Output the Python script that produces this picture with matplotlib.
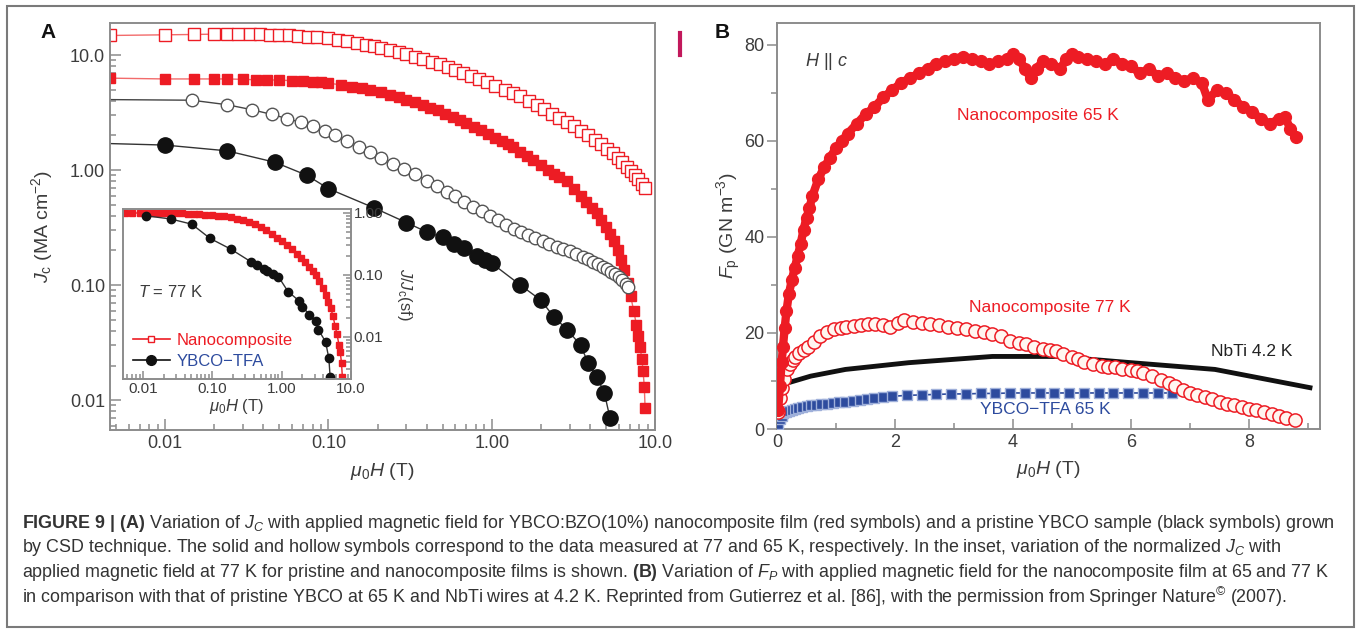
import matplotlib
matplotlib.use("Agg")
import matplotlib.pyplot as plt
from matplotlib.ticker import FixedLocator, FixedFormatter, LogLocator, NullFormatter, MultipleLocator
from matplotlib.lines import Line2D
from matplotlib.patches import Rectangle

plt.rcParams["font.family"] = ["Liberation Sans", "DejaVu Sans"]
plt.rcParams["mathtext.fontset"] = "custom"
plt.rcParams["mathtext.rm"] = "Liberation Sans"
plt.rcParams["mathtext.it"] = "Liberation Sans:italic"
plt.rcParams["mathtext.bf"] = "Liberation Sans:bold"

# ---- panel A: Jc vs field (log-log) ----
x_a_nano65 = [0.0046, 0.010, 0.015, 0.020, 0.024, 0.028, 0.033, 0.038, 0.044, 0.050,
              0.057, 0.065, 0.075, 0.085, 0.10, 0.115, 0.13, 0.15, 0.17, 0.19,
              0.21, 0.24, 0.27, 0.30, 0.34, 0.38, 0.43, 0.48, 0.54, 0.60,
              0.67, 0.75, 0.84, 0.94, 1.05, 1.20, 1.35, 1.50, 1.70, 1.90,
              2.10, 2.35, 2.60, 2.90, 3.20, 3.50, 3.90, 4.30, 4.70, 5.10,
              5.50, 5.90, 6.30, 6.70, 7.10, 7.50, 7.90, 8.30, 8.70]
y_a_nano65 = [14.8, 15.0, 15.1, 15.2, 15.2, 15.2, 15.1, 15.1, 15.0, 15.0,
              14.9, 14.7, 14.5, 14.3, 14.0, 13.6, 13.2, 12.7, 12.3, 11.9,
              11.6, 11.1, 10.6, 10.2, 9.7, 9.2, 8.7, 8.3, 7.8, 7.4,
              7.0, 6.6, 6.2, 5.8, 5.4, 5.0, 4.7, 4.4, 4.0, 3.7,
              3.4, 3.1, 2.85, 2.6, 2.4, 2.2, 2.0, 1.82, 1.67, 1.53,
              1.40, 1.28, 1.17, 1.07, 0.98, 0.90, 0.83, 0.76, 0.70]

x_a_nano77 = [0.0046, 0.010, 0.015, 0.020, 0.024, 0.030, 0.036, 0.042, 0.050, 0.060,
              0.070, 0.080, 0.090, 0.10, 0.12, 0.14, 0.16, 0.18, 0.21, 0.24,
              0.27, 0.30, 0.34, 0.38, 0.42, 0.47, 0.52, 0.58, 0.64, 0.70,
              0.78, 0.86, 0.95, 1.05, 1.15, 1.25, 1.35, 1.50, 1.65, 1.80,
              2.00, 2.20, 2.40, 2.60, 2.90, 3.20, 3.50, 3.80, 4.10, 4.40,
              4.70, 5.00, 5.30, 5.60, 5.90, 6.20, 6.50, 6.80, 7.10, 7.40,
              7.70, 7.90, 8.10, 8.30, 8.45, 8.60, 8.70]
y_a_nano77 = [6.3, 6.2, 6.2, 6.2, 6.2, 6.15, 6.1, 6.1, 6.05, 6.0,
              5.95, 5.85, 5.8, 5.7, 5.5, 5.3, 5.15, 5.0, 4.75, 4.5,
              4.3, 4.1, 3.9, 3.7, 3.5, 3.3, 3.1, 2.9, 2.7, 2.55,
              2.38, 2.22, 2.07, 1.92, 1.80, 1.68, 1.58, 1.45, 1.33, 1.23,
              1.10, 1.00, 0.93, 0.87, 0.80, 0.68, 0.60, 0.53, 0.47, 0.42,
              0.37, 0.32, 0.28, 0.24, 0.20, 0.165, 0.135, 0.105, 0.080, 0.060,
              0.045, 0.036, 0.029, 0.023, 0.018, 0.013, 0.0085]

x_a_ybco65 = [0.0046, 0.0146, 0.024, 0.034, 0.045, 0.056, 0.068, 0.080, 0.095, 0.11,
              0.13, 0.155, 0.18, 0.21, 0.25, 0.29, 0.34, 0.40, 0.46, 0.53,
              0.60, 0.68, 0.77, 0.87, 0.98, 1.10, 1.23, 1.37, 1.52, 1.68,
              1.85, 2.05, 2.25, 2.50, 2.75, 3.00, 3.30, 3.60, 3.90, 4.20,
              4.50, 4.80, 5.10, 5.40, 5.70, 6.00, 6.30, 6.60, 6.80]
y_a_ybco65 = [4.1, 4.05, 3.7, 3.35, 3.05, 2.8, 2.6, 2.4, 2.2, 2.0,
              1.8, 1.6, 1.45, 1.28, 1.14, 1.03, 0.92, 0.81, 0.72, 0.65,
              0.59, 0.53, 0.48, 0.44, 0.40, 0.365, 0.335, 0.31, 0.29, 0.27,
              0.255, 0.24, 0.228, 0.216, 0.205, 0.196, 0.186, 0.177, 0.168, 0.16,
              0.152, 0.145, 0.138, 0.131, 0.124, 0.117, 0.110, 0.103, 0.096]

x_a_ybco77 = [0.0046, 0.010, 0.024, 0.047, 0.074, 0.10, 0.19, 0.30, 0.40, 0.50,
              0.59, 0.68, 0.81, 0.91, 1.0, 1.5, 2.0, 2.4, 2.9, 3.5,
              3.9, 4.4, 4.9, 5.3]
y_a_ybco77 = [1.70, 1.65, 1.47, 1.17, 0.90, 0.69, 0.47, 0.35, 0.29, 0.26,
              0.23, 0.21, 0.18, 0.165, 0.155, 0.10, 0.074, 0.053, 0.041, 0.030,
              0.021, 0.016, 0.0115, 0.0070]

# inset: normalised Jc at 77 K
x_in_nano = [0.0055, 0.007, 0.009, 0.011, 0.013, 0.016, 0.019, 0.022, 0.026, 0.030,
             0.037, 0.045, 0.055, 0.065, 0.08, 0.10, 0.12, 0.15, 0.19, 0.23,
             0.28, 0.34, 0.41, 0.50, 0.60, 0.72, 0.86, 1.0, 1.2, 1.4,
             1.65, 1.9, 2.2, 2.5, 2.8, 3.1, 3.5, 3.9, 4.3, 4.7,
             5.1, 5.5, 5.9, 6.3, 6.7, 7.0, 7.3, 7.5]
y_in_nano = [1.0, 1.0, 1.0, 1.0, 1.0, 1.0, 1.0, 1.0, 1.0, 0.99,
             0.99, 0.98, 0.97, 0.96, 0.94, 0.92, 0.90, 0.88, 0.85, 0.81,
             0.77, 0.72, 0.67, 0.60, 0.53, 0.46, 0.40, 0.35, 0.30, 0.26,
             0.22, 0.19, 0.16, 0.135, 0.115, 0.10, 0.08, 0.062, 0.048, 0.037,
             0.029, 0.022, 0.015, 0.011, 0.0075, 0.0057, 0.0038, 0.0023]
x_in_ybco = [0.0113, 0.0254, 0.051, 0.093, 0.187, 0.36, 0.44, 0.55, 0.62, 0.76,
             0.90, 1.24, 1.8, 2.0, 2.5, 3.1, 3.4, 4.3, 4.8, 5.0]
y_in_ybco = [0.90, 0.80, 0.66, 0.39, 0.26, 0.164, 0.145, 0.125, 0.116, 0.103,
             0.094, 0.054, 0.038, 0.031, 0.023, 0.018, 0.013, 0.0084, 0.0045, 0.0023]

# ---- panel B: pinning force vs field ----
x_b_nano65 = [0.02, 0.05, 0.08, 0.10, 0.13, 0.16, 0.20, 0.25, 0.30, 0.35,
              0.40, 0.45, 0.50, 0.55, 0.60, 0.70, 0.80, 0.90, 1.00, 1.10,
              1.20, 1.35, 1.50, 1.65, 1.80, 1.95, 2.10, 2.25, 2.40, 2.55,
              2.70, 2.85, 3.00, 3.15, 3.30, 3.45, 3.60, 3.75, 3.90, 4.00,
              4.10, 4.20, 4.30, 4.40, 4.50, 4.65, 4.80, 4.90, 5.00, 5.10,
              5.25, 5.40, 5.55, 5.70, 5.85, 6.00, 6.15, 6.30, 6.45, 6.60,
              6.75, 6.90, 7.05, 7.20, 7.30, 7.45, 7.60, 7.75, 7.90, 8.05,
              8.20, 8.35, 8.50, 8.60, 8.70, 8.80]
y_b_nano65 = [4.0, 9.0, 14.0, 17.0, 21.0, 24.5, 28.0, 31.0, 33.5, 36.0,
              38.5, 41.5, 44.0, 46.0, 48.5, 52.0, 54.5, 56.5, 58.5, 60.0,
              61.5, 63.5, 65.5, 67.0, 69.0, 70.5, 72.0, 73.0, 74.0, 75.0,
              76.0, 76.5, 77.0, 77.5, 77.0, 76.5, 76.0, 76.5, 77.0, 78.0,
              77.0, 75.0, 73.0, 75.0, 76.5, 76.0, 75.0, 77.0, 78.0, 77.5,
              77.0, 76.5, 76.0, 77.0, 76.0, 75.5, 74.0, 75.0, 73.5, 74.0,
              73.0, 72.5, 73.0, 72.0, 68.5, 70.5, 70.0, 68.5, 67.0, 66.0,
              64.5, 63.5, 64.5, 65.0, 62.5, 60.7]

x_b_nano77 = [0.02, 0.05, 0.08, 0.12, 0.17, 0.22, 0.27, 0.31, 0.38, 0.45,
              0.53, 0.62, 0.73, 0.85, 0.97, 1.08, 1.17, 1.30, 1.42, 1.55,
              1.66, 1.80, 1.92, 2.05, 2.16, 2.30, 2.45, 2.60, 2.75, 2.90,
              3.05, 3.20, 3.35, 3.50, 3.65, 3.80, 3.95, 4.10, 4.22, 4.35,
              4.50, 4.62, 4.72, 4.85, 5.00, 5.10, 5.20, 5.35, 5.50, 5.60,
              5.72, 5.85, 6.00, 6.10, 6.20, 6.35, 6.50, 6.64, 6.75, 6.88,
              7.00, 7.12, 7.25, 7.37, 7.50, 7.62, 7.75, 7.88, 8.00, 8.12,
              8.25, 8.38, 8.50, 8.62, 8.78]
y_b_nano77 = [3.5, 6.5, 8.5, 10.5, 12.4, 13.5, 14.4, 15.0, 15.8, 16.5,
              17.0, 18.2, 19.4, 20.2, 20.8, 21.1, 21.2, 21.5, 21.7, 21.8,
              21.9, 21.6, 21.2, 22.0, 22.7, 22.3, 22.0, 21.8, 21.6, 21.3,
              21.0, 20.8, 20.4, 20.1, 19.8, 19.4, 18.3, 18.0, 17.6, 17.0,
              16.6, 16.4, 16.2, 15.6, 15.0, 14.5, 14.0, 13.6, 13.2, 13.0,
              12.8, 12.4, 12.2, 12.0, 11.7, 11.0, 10.3, 9.6, 9.0, 8.2,
              7.5, 7.0, 6.6, 6.2, 5.7, 5.3, 4.9, 4.5, 4.2, 3.9,
              3.5, 3.1, 2.7, 2.3, 1.9]

x_b_nbti = [0.24, 0.57, 1.16, 2.23, 3.65, 4.72, 5.80, 7.42, 9.03]
y_b_nbti = [9.8, 11.0, 12.4, 13.8, 15.1, 15.1, 14.0, 12.4, 8.6]

x_b_ybco65 = [0.02, 0.05, 0.08, 0.11, 0.15, 0.20, 0.25, 0.30, 0.36, 0.42,
              0.50, 0.58, 0.66, 0.75, 0.85, 0.95, 1.05, 1.16, 1.28, 1.40,
              1.52, 1.65, 1.80, 1.95, 2.20, 2.45, 2.70, 2.95, 3.20, 3.45,
              3.70, 3.95, 4.20, 4.45, 4.70, 4.95, 5.20, 5.45, 5.70, 5.95,
              6.20, 6.45, 6.70]
y_b_ybco65 = [1.0, 2.0, 2.8, 3.3, 3.6, 3.8, 4.0, 4.2, 4.3, 4.5,
              4.7, 4.9, 5.0, 5.2, 5.3, 5.5, 5.6, 5.7, 5.9, 6.0,
              6.2, 6.4, 6.6, 6.8, 7.0, 7.1, 7.2, 7.3, 7.3, 7.4,
              7.4, 7.5, 7.5, 7.5, 7.5, 7.5, 7.5, 7.5, 7.5, 7.5,
              7.5, 7.5, 7.5]

log_ticks = [0.01, 0.1, 1, 10]
log_labels = ["0.01", "0.10", "1.00", "10.0"]

RED = "#ED1C24"
LINE_RED = "#F26B6B"
BLUE = "#2D4B9E"
SPINE = "#8C8C8C"
TXT = "#3C3C3C"

W, H = 1357, 629
fig = plt.figure(figsize=(W / 100, H / 100), dpi=100)


def box(l, t, r, b):
    return [l / W, 1 - b / H, (r - l) / W, (b - t) / H]


def style_log(ax, size, major_len, minor_len):
    ax.set_xscale("log")
    ax.set_yscale("log")
    for ax_ in (ax.xaxis, ax.yaxis):
        ax_.set_major_locator(FixedLocator(log_ticks))
        ax_.set_major_formatter(FixedFormatter(log_labels))
        ax_.set_minor_locator(LogLocator(base=10, subs=range(2, 10)))
        ax_.set_minor_formatter(NullFormatter())
    ax.tick_params(which="both", direction="in", color=SPINE, width=1.1,
                   labelsize=size, labelcolor=TXT)
    ax.tick_params(which="major", length=major_len)
    ax.tick_params(which="minor", length=minor_len)
    for s in ax.spines.values():
        s.set_color(SPINE)
        s.set_linewidth(1.4)


# ---------------- panel A ----------------
axA = fig.add_axes(box(110, 23, 655, 430))
style_log(axA, 13, 8, 4.5)
axA.set_xlim(0.0046, 10)
axA.set_ylim(0.0055, 19)

axA.plot(x_a_nano65, y_a_nano65, "-", color=LINE_RED, lw=1.0, marker="s", ms=8.5,
         mfc="white", mec=RED, mew=1.0)
axA.plot(x_a_nano77, y_a_nano77, "-", color=LINE_RED, lw=1.0, marker="s", ms=7,
         mfc=RED, mec=RED, mew=1.0)
axA.plot(x_a_ybco65, y_a_ybco65, "-", color="#444444", lw=1.0, marker="o", ms=9,
         mfc="white", mec="#555555", mew=1.0, markevery=slice(1, None))
axA.plot(x_a_ybco77, y_a_ybco77, "-", color="#333333", lw=1.0, marker="o", ms=11,
         mfc="#111111", mec="#111111", markevery=slice(1, None))

axA.set_xlabel(r"$\mu_0H$ (T)", fontsize=14, color=TXT)
axA.set_ylabel(r"$J_\mathrm{c}$ (MA cm$^{-2}$)", fontsize=14, color=TXT)
axA.xaxis.set_label_coords(0.5, -0.075)
axA.yaxis.set_label_coords(-0.1, 0.5)

# inset
axI = fig.add_axes(box(123, 209, 351, 379))
style_log(axI, 11, 6, 3.5)
axI.set_xlim(0.0052, 10)
axI.set_ylim(0.0021, 1.16)
axI.tick_params(axis="y", which="both", left=False, right=True, labelleft=False, labelright=True)
axI.tick_params(axis="both", pad=2)

axI.plot(x_in_nano, y_in_nano, "-", color=RED, lw=1.0, marker="s", ms=4.5,
         mfc=RED, mec=RED)
axI.plot(x_in_ybco, y_in_ybco, "-", color="#333333", lw=1.0, marker="o", ms=6,
         mfc="#111111", mec="#111111")
axI.set_xlabel(r"$\mu_0H$ (T)", fontsize=12, color=TXT, labelpad=1)
axI.text(1.235, 0.5, r"$J/J_\mathrm{c}$(sf)", transform=axI.transAxes, fontsize=12,
         color=TXT, rotation=270, ha="center", va="center")
axI.text(0.21, 0.51, r"$T$ = 77 K", transform=axI.transAxes, fontsize=12,
         color=TXT, ha="center", va="center")

leg_h = [Line2D([], [], color=RED, lw=1.2, marker="s", ms=4.5, mfc="white", mec=RED),
         Line2D([], [], color="#111111", lw=1.2, marker="o", ms=7, mfc="#111111", mec="#111111")]
leg = axI.legend(leg_h, ["Nanocomposite", "YBCO\u2212TFA"], loc="lower left",
                 bbox_to_anchor=(0.0, 0.0), frameon=False, fontsize=12,
                 handlelength=2.2, handletextpad=0.4, labelspacing=0.35,
                 borderaxespad=0.2)
for t, c in zip(leg.get_texts(), [RED, BLUE]):
    t.set_color(c)

# ---------------- panel B ----------------
axB = fig.add_axes(box(777, 23, 1320, 429))
axB.set_xlim(0, 9.2)
axB.set_ylim(0, 84.5)
axB.xaxis.set_major_locator(MultipleLocator(2))
axB.xaxis.set_minor_locator(MultipleLocator(1))
axB.yaxis.set_major_locator(MultipleLocator(20))
axB.yaxis.set_minor_locator(MultipleLocator(10))
axB.tick_params(which="both", color=SPINE, width=1.1, labelsize=13, labelcolor=TXT)
axB.tick_params(axis="x", which="both", direction="in")
axB.tick_params(axis="y", which="both", direction="out", pad=2)
axB.tick_params(which="major", length=7)
axB.tick_params(which="minor", length=4)
for s in axB.spines.values():
    s.set_color(SPINE)
    s.set_linewidth(1.4)

axB.plot(x_b_nbti, y_b_nbti, "-", color="#111111", lw=3.5, zorder=2)
axB.plot(x_b_ybco65, y_b_ybco65, "-", color=BLUE, lw=1.2, marker="s", ms=7,
         mfc=BLUE, mec="#9FB0DA", mew=1.0, zorder=3)
axB.plot(x_b_nano77, y_b_nano77, "o", ms=9.5, mfc="#FFF6F0", mec=RED, mew=1.1, zorder=4)
axB.plot(x_b_nano65, y_b_nano65, "-", color=RED, lw=6, marker="o", ms=8.5,
         mfc=RED, mec=RED, zorder=5, solid_capstyle="round")

axB.set_xlabel(r"$\mu_0H$ (T)", fontsize=14, color=TXT)
axB.set_ylabel(r"$F_\mathrm{p}$ (GN m$^{-3}$)", fontsize=14, color=TXT)
axB.xaxis.set_label_coords(0.5, -0.075)
axB.yaxis.set_label_coords(-0.062, 0.5)

axB.text(0.052, 0.905, r"$H$ || $c$", transform=axB.transAxes, fontsize=13,
         color=TXT, ha="left", va="center")
axB.text(0.48, 0.773, "Nanocomposite 65 K", transform=axB.transAxes, fontsize=12.5,
         color=RED, ha="center", va="center")
axB.text(0.503, 0.30, "Nanocomposite 77 K", transform=axB.transAxes, fontsize=12.5,
         color=RED, ha="center", va="center")
axB.text(0.875, 0.19, "NbTi 4.2 K", transform=axB.transAxes, fontsize=12.5,
         color="#222222", ha="center", va="center")
axB.text(0.494, 0.047, "YBCO\u2212TFA 65 K", transform=axB.transAxes, fontsize=12.5,
         color=BLUE, ha="center", va="center")

# panel letters, stray mark, frame
fig.text(48 / W, 1 - 32 / H, "A", fontsize=15, fontweight="bold",
         ha="center", va="center", color="#111111")
fig.text(722 / W, 1 - 32 / H, "B", fontsize=15, fontweight="bold",
         ha="center", va="center", color="#111111")
fig.add_artist(Line2D([680 / W, 680 / W], [1 - 33 / H, 1 - 55 / H], color="#C2185B", lw=3))
fig.add_artist(Rectangle((7 / W, 1 - 627 / H), (1354 - 7) / W, (627 - 6) / H, fill=False,
                         edgecolor="#7A7A7A", lw=1.5, transform=fig.transFigure))

# caption
caption = [
    r"$\bf{FIGURE\ 9\ |\ (A)}$ Variation of $J_C$ with applied magnetic field for YBCO:BZO(10%) nanocomposite film (red symbols) and a pristine YBCO sample (black symbols) grown",
    r"by CSD technique. The solid and hollow symbols correspond to the data measured at 77 and 65 K, respectively. In the inset, variation of the normalized $J_C$ with",
    r"applied magnetic field at 77 K for pristine and nanocomposite films is shown. $\bf{(B)}$ Variation of $F_P$ with applied magnetic field for the nanocomposite film at 65 and 77 K",
    r"in comparison with that of pristine YBCO at 65 K and NbTi wires at 4.2 K. Reprinted from Gutierrez et al. [86], with the permission from Springer Nature$^{\copyright}$ (2007).",
]
for i, line in enumerate(caption):
    fig.text(22 / W, 1 - (523 + 24.7 * i) / H, line, fontsize=12.9, color="#333333",
             ha="left", va="center")

fig.savefig("out.png", dpi=100)
